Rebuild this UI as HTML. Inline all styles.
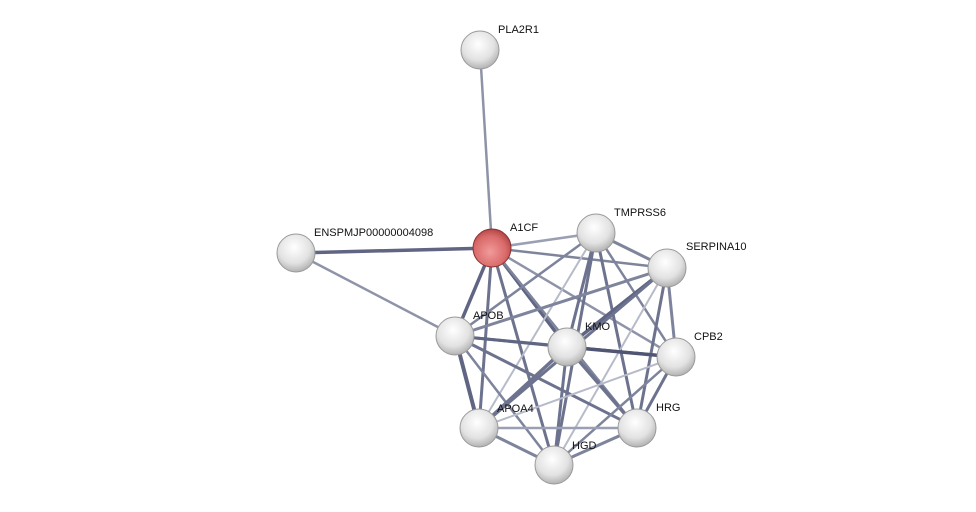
<!DOCTYPE html>
<html><head><meta charset="utf-8"><style>
html,body{margin:0;padding:0;background:#fff;width:976px;height:512px;overflow:hidden}
text{font-family:"Liberation Sans",sans-serif;font-size:11px;fill:#111}
</style></head><body>
<svg width="976" height="512" xmlns="http://www.w3.org/2000/svg">
<defs>
<radialGradient id="g" cx="0.45" cy="0.35" r="0.7">
<stop offset="0" stop-color="#ffffff"/><stop offset="0.6" stop-color="#e2e2e2"/><stop offset="1" stop-color="#a8a8a8"/></radialGradient>
<radialGradient id="r" cx="0.45" cy="0.6" r="0.7">
<stop offset="0" stop-color="#f29a9a"/><stop offset="0.6" stop-color="#d96a6a"/><stop offset="1" stop-color="#9e3434"/></radialGradient>
<linearGradient id="h" x1="0" y1="0" x2="0" y2="1"><stop offset="0" stop-color="#fff" stop-opacity="0.9"/><stop offset="1" stop-color="#fff" stop-opacity="0"/></linearGradient>
</defs>
<g stroke-linecap="round" fill="none">
<line x1="480" y1="50" x2="492" y2="248" stroke="#8e93a8" stroke-width="2.5"/>
<line x1="296" y1="253" x2="492" y2="248" stroke="#5f6582" stroke-width="3.5"/>
<line x1="296" y1="253" x2="455" y2="336" stroke="#8e93a8" stroke-width="2.5"/>
<!-- cluster -->
<line x1="492" y1="248" x2="596" y2="233" stroke="#9a9fb3" stroke-width="2.5"/>
<line x1="492" y1="248" x2="667" y2="268" stroke="#7e849c" stroke-width="2.5"/>
<line x1="492" y1="248" x2="455" y2="336" stroke="#5f6582" stroke-width="3.5"/>
<line x1="492" y1="248" x2="567" y2="347" stroke="#5f6582" stroke-width="3.5"/>
<line x1="492" y1="248" x2="479" y2="428" stroke="#6d738e" stroke-width="3"/>
<line x1="492" y1="248" x2="554" y2="465" stroke="#6d738e" stroke-width="3"/>
<line x1="492" y1="248" x2="637" y2="428" stroke="#7e849c" stroke-width="2.5"/>
<line x1="492" y1="248" x2="676" y2="357" stroke="#8e93a8" stroke-width="2.5"/>
<line x1="596" y1="233" x2="667" y2="268" stroke="#7e849c" stroke-width="3"/>
<line x1="596" y1="233" x2="455" y2="336" stroke="#7e849c" stroke-width="2.5"/>
<line x1="596" y1="233" x2="567" y2="347" stroke="#6d738e" stroke-width="3"/>
<line x1="596" y1="233" x2="676" y2="357" stroke="#7e849c" stroke-width="2.5"/>
<line x1="596" y1="233" x2="637" y2="428" stroke="#6d738e" stroke-width="3"/>
<line x1="596" y1="233" x2="554" y2="465" stroke="#6d738e" stroke-width="3"/>
<line x1="596" y1="233" x2="479" y2="428" stroke="#b7bbc9" stroke-width="2"/>
<line x1="667" y1="268" x2="455" y2="336" stroke="#7e849c" stroke-width="3"/>
<line x1="667" y1="268" x2="567" y2="347" stroke="#5f6582" stroke-width="3.5"/>
<line x1="667" y1="268" x2="676" y2="357" stroke="#7e849c" stroke-width="3"/>
<line x1="667" y1="268" x2="637" y2="428" stroke="#6d738e" stroke-width="3"/>
<line x1="667" y1="268" x2="554" y2="465" stroke="#b7bbc9" stroke-width="2"/>
<line x1="667" y1="268" x2="479" y2="428" stroke="#6d738e" stroke-width="3"/>
<line x1="455" y1="336" x2="567" y2="347" stroke="#6d738e" stroke-width="3"/>
<line x1="455" y1="336" x2="676" y2="357" stroke="#5f6582" stroke-width="3"/>
<line x1="455" y1="336" x2="479" y2="428" stroke="#5f6582" stroke-width="4"/>
<line x1="455" y1="336" x2="554" y2="465" stroke="#7e849c" stroke-width="2.5"/>
<line x1="455" y1="336" x2="637" y2="428" stroke="#6d738e" stroke-width="3"/>
<line x1="567" y1="347" x2="676" y2="357" stroke="#4f5573" stroke-width="3.5"/>
<line x1="567" y1="347" x2="479" y2="428" stroke="#6d738e" stroke-width="3.5"/>
<line x1="567" y1="347" x2="554" y2="465" stroke="#6d738e" stroke-width="3"/>
<line x1="567" y1="347" x2="637" y2="428" stroke="#6d738e" stroke-width="3.5"/>
<line x1="676" y1="357" x2="637" y2="428" stroke="#6d738e" stroke-width="3"/>
<line x1="676" y1="357" x2="554" y2="465" stroke="#7e849c" stroke-width="2.5"/>
<line x1="676" y1="357" x2="479" y2="428" stroke="#b7bbc9" stroke-width="2"/>
<line x1="479" y1="428" x2="637" y2="428" stroke="#9a9fb3" stroke-width="2.5"/>
<line x1="479" y1="428" x2="554" y2="465" stroke="#7e849c" stroke-width="3"/>
<line x1="554" y1="465" x2="637" y2="428" stroke="#7e849c" stroke-width="3"/>
</g>
<g stroke="#9a9a9a" stroke-width="1">
<circle cx="480" cy="50" r="19" fill="url(#g)"/>
<circle cx="296" cy="253" r="19" fill="url(#g)"/>
<circle cx="492" cy="248" r="19" fill="url(#r)" stroke="#8a3030"/>
<circle cx="596" cy="233" r="19" fill="url(#g)"/>
<circle cx="667" cy="268" r="19" fill="url(#g)"/>
<circle cx="455" cy="336" r="19" fill="url(#g)"/>
<circle cx="567" cy="347" r="19" fill="url(#g)"/>
<circle cx="676" cy="357" r="19" fill="url(#g)"/>
<circle cx="479" cy="428" r="19" fill="url(#g)"/>
<circle cx="637" cy="428" r="19" fill="url(#g)"/>
<circle cx="554" cy="465" r="19" fill="url(#g)"/>
</g>
<text x="498" y="33">PLA2R1</text>
<text x="314" y="236">ENSPMJP00000004098</text>
<text x="510" y="231">A1CF</text>
<text x="614" y="216">TMPRSS6</text>
<text x="686" y="250">SERPINA10</text>
<text x="473" y="319">APOB</text>
<text x="585" y="330">KMO</text>
<text x="694" y="340">CPB2</text>
<text x="497" y="412">APOA4</text>
<text x="656" y="411">HRG</text>
<text x="572" y="449">HGD</text>
</svg>
</body></html>
